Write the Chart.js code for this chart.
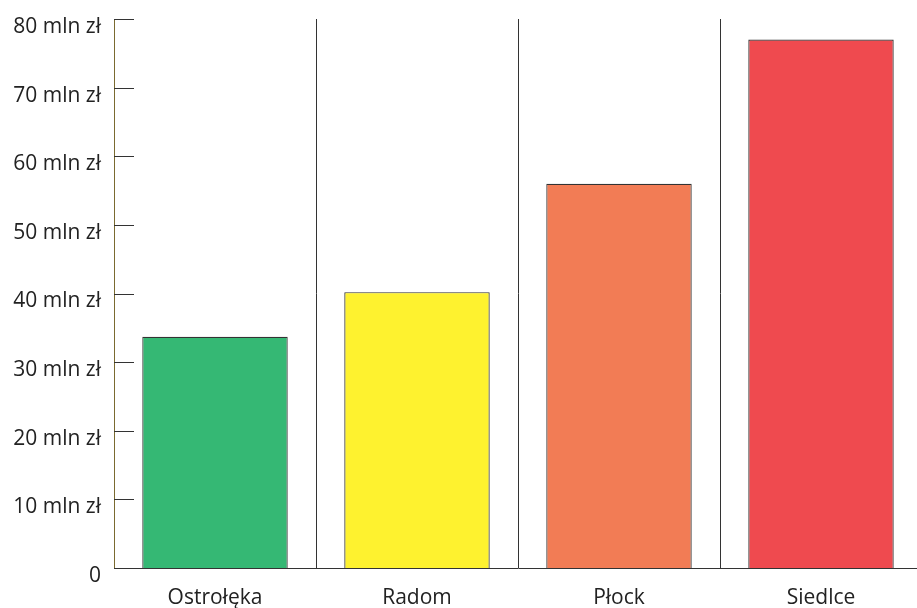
<!DOCTYPE html>
<html>
<head>
<meta charset="utf-8">
<script src="https://cdn.jsdelivr.net/npm/chart.js@4.4.1/dist/chart.umd.min.js"></script>
<style>
    html, body { margin: 0; padding: 0; background: #fff; overflow: hidden; }
    #wrap { width: 924px; height: 608px; }
</style>
</head>
<body>
<div id="wrap"><canvas id="grafica"></canvas></div>
<script>
const miasta = ['Ostrołęka', 'Radom', 'Płock', 'Siedlce'];
const kwoty = [33.7, 40.2, 56, 77];
const kolory = ['#35b874', '#fef22f', '#f27c55', '#ef4a4f'];
const podzialkaY = [0, 10, 20, 30, 40, 50, 60, 70, 80];

// krótkie kreski podziałki po wewnętrznej stronie osi Y
const kreskiY = {
    id: 'kreskiY',
    afterDatasetsDraw(chart) {
        const y = chart.scales.y;
        const ctx = chart.ctx;
        ctx.save();
        ctx.strokeStyle = '#333';
        ctx.lineWidth = 1;
        podzialkaY.forEach(v => {
            const py = Math.round(y.getPixelForValue(v)) + 0.5;
            ctx.beginPath();
            ctx.moveTo(chart.chartArea.left, py);
            ctx.lineTo(chart.chartArea.left + 20, py);
            ctx.stroke();
        });
        ctx.restore();
    }
};

new Chart(document.getElementById('grafica'), {
    type: 'bar',
    data: {
        labels: miasta,
        datasets: [{
            data: kwoty,
            backgroundColor: kolory,
            borderColor: '#333',
            borderWidth: 1.2,
            barPercentage: 0.72,
            categoryPercentage: 1
        }]
    },
    options: {
        responsive: true,
        maintainAspectRatio: false,
        animation: false,
        layout: {
            padding: { top: 19, right: 2, bottom: 0, left: 0 }
        },
        plugins: {
            legend: { display: false },
            tooltip: { enabled: false }
        },
        scales: {
            x: {
                afterFit: scale => {
                    scale.height = 40;
                },
                grid: {
                    offset: true,
                    color: '#333',
                    drawTicks: false
                },
                border: { color: '#333', width: 1 },
                ticks: {
                    color: '#222',
                    padding: 17,
                    font: { family: 'Open Sans', size: 21 }
                }
            },
            y: {
                min: 0,
                max: 80,
                afterBuildTicks: scale => {
                    scale.ticks = podzialkaY.map(v => ({ value: v }));
                },
                afterFit: scale => {
                    scale.width = 114;
                    scale.paddingTop = 0;
                    scale.paddingBottom = 0;
                },
                grid: { display: false, drawTicks: false },
                border: { color: '#7a6a30', width: 1 },
                ticks: {
                    color: '#222',
                    padding: 13,
                    labelOffset: 8,
                    font: { family: 'Open Sans', size: 21 },
                    callback: v => v === 0 ? '0' : v + ' mln zł'
                }
            }
        }
    },
    plugins: [kreskiY]
});
</script>
</body>
</html>
